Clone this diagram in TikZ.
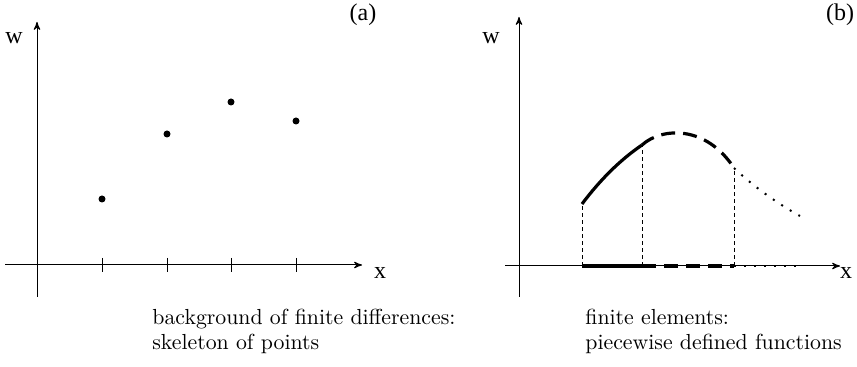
\documentclass[tikz,border=0pt]{standalone}
\usepackage{fontspec}
\newfontfamily\figfont{Liberation Serif}
\usetikzlibrary{arrows}
\tikzset{
  axis/.style={-stealth',line width=0.5pt},
  lbl/.style={font=\figfont\large,inner sep=0pt},
  captxt/.style={anchor=base west,inner sep=0pt,font=\fontsize{10.9pt}{13pt}\selectfont},
  thk/.style={line width=1.6pt},
  guide/.style={dashed,line width=0.4pt,dash pattern=on 2pt off 1.5pt},
}

\begin{document}
\begin{tikzpicture}[x=0.5pt,y=-0.5pt]
\useasboundingbox (0,0) rectangle (857,367);

%panel (a)
\coordinate (ya0) at (37,297);
\coordinate (ya1) at (37,22);
\coordinate (xa0) at (5,265);
\coordinate (xa1) at (362,265);
\draw[axis] (ya0) -- (ya1);
\draw[axis] (xa0) -- (xa1);
\node[lbl] (wa) at (14,38) {w};
\node[lbl] (xa) at (380,273) {x};
\node[lbl] (la) at (363,15) {(a)};

\foreach \px/\py [count=\i] in {102/199,167/134,231/102,296/121}{
  \draw (\px,258) -- (\px,272);
  \fill (\px,\py) circle(3.5);
}

\node[captxt] (ta1) at (152,325) {background of finite differences:};
\node[captxt] (ta2) at (152,350) {skeleton of points};

%panel (b)
\coordinate (yb0) at (519,297);
\coordinate (yb1) at (519,17);
\coordinate (xb0) at (505,266);
\coordinate (xb1) at (840,266);
\draw[axis] (yb0) -- (yb1);
\draw[axis] (xb0) -- (xb1);
\node[lbl] (wb) at (491,38) {w};
\node[lbl] (xb) at (846,273) {x};
\node[lbl] (lb) at (840,15) {(b)};

\coordinate (A) at (582,204);
\coordinate (B) at (642,145);
\coordinate (C) at (734,168);
\coordinate (D) at (800,216);
\coordinate (A0) at (582,266);
\coordinate (B0) at (642,266);
\coordinate (C0) at (734,266);
\coordinate (D0) at (800,266);

\draw[guide] (A0) -- (A);
\draw[guide] (B0) -- (B);
\draw[guide] (C0) -- (C);

\draw[thk] (A) .. controls (600,180) and (620,160) .. (B);
\draw[thk,dash pattern=on 7pt off 4pt] (B) .. controls (662,127) and (706,125) .. (C);
\draw[line width=1pt,dash pattern=on 1pt off 4pt] (C) .. controls (755,188) and (780,205) .. (D);

\draw[thk] (A0) -- (B0);
\draw[thk,dash pattern=on 7pt off 4pt] (B0) -- (C0);
\draw[line width=1pt,dash pattern=on 1pt off 4pt] (C0) -- (D0);

\node[captxt] (tb1) at (585,325) {finite elements:};
\node[captxt] (tb2) at (585,350) {piecewise defined functions};
\end{tikzpicture}
\end{document}
